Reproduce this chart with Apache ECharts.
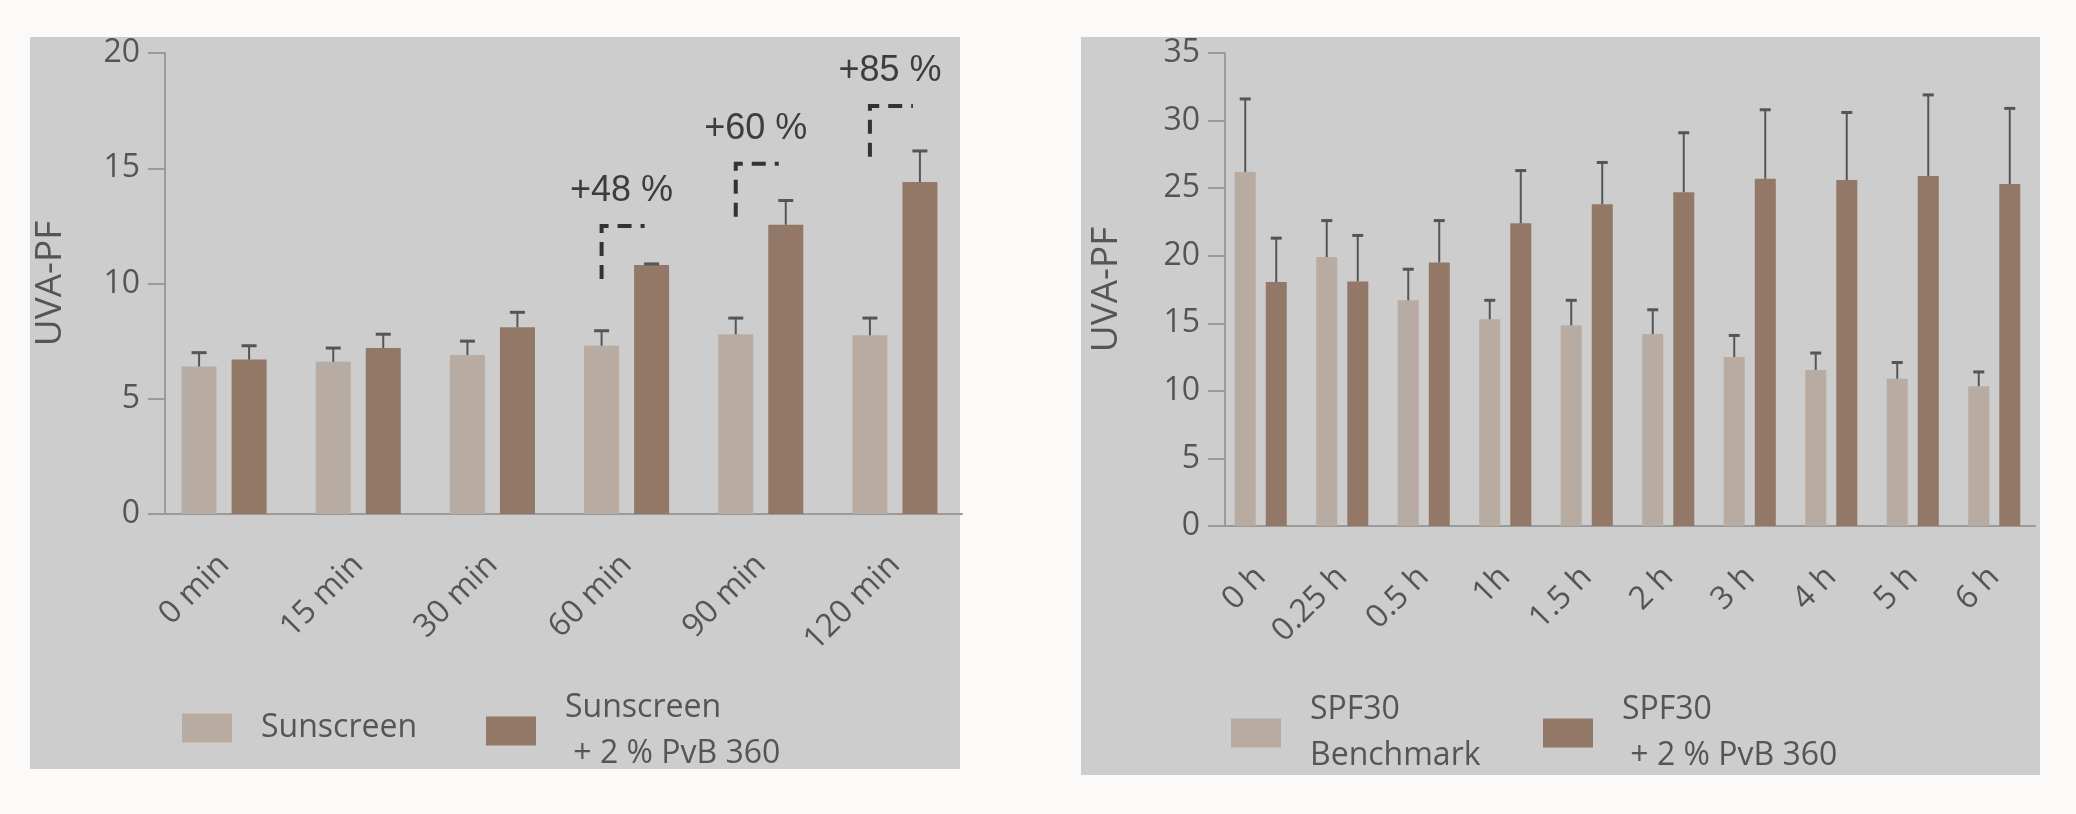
<!DOCTYPE html>
<html lang="en">

<head>
    <meta charset="UTF-8">
    <title>UVA-PF</title>
    <script src="https://cdn.jsdelivr.net/npm/echarts@6/dist/echarts.min.js"></script>
    <style>
        html, body { margin: 0; padding: 0; background: #fbfaf9; }
        .panel { position: absolute; background: #cdcdcd; }
        #main { position: absolute; left: 0; top: 0; width: 2076px; height: 814px; }
    </style>
</head>

<body>
    <div class="panel" style="left:30px; top:37px; width:930px; height:732px;"></div>
    <div class="panel" style="left:1081px; top:37px; width:959px; height:738px;"></div>
    <div id="main"></div>
    <script>
        // left chart: minutes
        var minCats = ['0 min', '15 min', '30 min', '60 min', '90 min', '120 min'];
        var sunscreen = [6.4, 6.6, 6.9, 7.3, 7.8, 7.75];
        var sunscreenErr = [0.6, 0.6, 0.6, 0.65, 0.7, 0.75];
        var sunscreenPvb = [6.7, 7.2, 8.1, 10.8, 12.55, 14.4];
        var sunscreenPvbErr = [0.6, 0.6, 0.65, 0.05, 1.05, 1.35];

        // dashed brackets with the gain
        var gainIdx = [3, 4, 5];
        var gainLabels = ['+48 %', '+60 %', '+85 %'];
        var gainLow = [10.2, 12.9, 15.5];
        var gainHigh = [12.5, 15.2, 17.7];

        // right chart: hours
        var hourCats = ['0 h', '0.25 h', '0.5 h', '1h', '1.5 h', '2 h', '3 h', '4 h', '5 h', '6 h'];
        var spf30 = [26.2, 19.9, 16.7, 15.3, 14.85, 14.2, 12.5, 11.55, 10.9, 10.35];
        var spf30Err = [5.4, 2.7, 2.3, 1.4, 1.85, 1.8, 1.6, 1.25, 1.2, 1.05];
        var spf30Pvb = [18.05, 18.1, 19.5, 22.4, 23.8, 24.7, 25.7, 25.6, 25.9, 25.3];
        var spf30PvbErr = [3.25, 3.4, 3.1, 3.9, 3.1, 4.4, 5.1, 5.0, 6.0, 5.6];

        var light = '#b8aba1';
        var dark = '#937868';
        var axisColor = '#9a9a9a';
        var textColor = '#555';
        var font = 'Open Sans';

        function errorBars(gridIdx, means, errs, dx, capW) {
            return {
                type: 'custom',
                xAxisIndex: gridIdx,
                yAxisIndex: gridIdx,
                z: 3,
                silent: true,
                data: means.map(function (m, i) { return [i, m, m + errs[i]]; }),
                renderItem: function (params, api) {
                    var base = api.coord([api.value(0), api.value(1)]);
                    var top = api.coord([api.value(0), api.value(2)]);
                    var x = base[0] + dx;
                    return {
                        type: 'group',
                        children: [
                            { type: 'line', shape: { x1: x, y1: base[1], x2: x, y2: top[1] }, style: { stroke: '#555', lineWidth: 2 } },
                            { type: 'line', shape: { x1: x - capW / 2, y1: top[1], x2: x + capW / 2, y2: top[1] }, style: { stroke: '#555', lineWidth: 3 } }
                        ]
                    };
                }
            };
        }

        function xAxis(gridIdx, cats) {
            return {
                type: 'category',
                gridIndex: gridIdx,
                data: cats,
                axisLine: { lineStyle: { color: axisColor, width: 2 } },
                axisTick: { alignWithLabel: true, length: 18, lineStyle: { color: axisColor, width: 2 } },
                axisLabel: { rotate: 45, margin: 46, fontFamily: font, fontSize: 32, color: textColor, interval: 0 }
            };
        }

        function yAxis(gridIdx, max, offset, gap) {
            return {
                type: 'value',
                gridIndex: gridIdx,
                min: 0,
                max: max,
                interval: 5,
                offset: offset,
                name: 'UVA-PF',
                nameLocation: 'middle',
                nameGap: gap,
                nameTextStyle: { fontFamily: font, fontSize: 37, color: textColor },
                axisLine: { show: true, lineStyle: { color: axisColor, width: 2 } },
                axisTick: { show: true, length: 17, lineStyle: { color: axisColor, width: 2 } },
                axisLabel: { margin: 25, fontFamily: font, fontSize: 32, color: textColor },
                splitLine: { show: false }
            };
        }

        var legendBase = {
            orient: 'vertical',
            padding: 0,
            itemWidth: 50,
            itemHeight: 29,
            icon: 'rect',
            selectedMode: false,
            textStyle: { fontFamily: font, fontSize: 32, color: textColor, lineHeight: 46, padding: [0, 0, 0, 24] }
        };
        function legend(name, left, top) {
            return Object.assign({}, legendBase, { data: [name], left: left, top: top });
        }

        var myChart = echarts.init(document.getElementById('main'));
        myChart.setOption({
            animation: false,
            grid: [
                { left: 157, top: 53, width: 805, height: 461 },
                { left: 1220, top: 53, width: 815, height: 473 }
            ],
            xAxis: [xAxis(0, minCats), xAxis(1, hourCats)],
            yAxis: [yAxis(0, 20, -8, 96), yAxis(1, 35, -5, 100)],
            legend: [
                legend('Sunscreen', 182, 705),
                legend('Sunscreen\n + 2 % PvB 360', 486, 685),
                legend('SPF30\nBenchmark', 1231, 687),
                legend('SPF30\n + 2 % PvB 360', 1543, 687)
            ],
            series: [
                { name: 'Sunscreen', type: 'bar', xAxisIndex: 0, yAxisIndex: 0, data: sunscreen, barWidth: 35, barGap: '43%', itemStyle: { color: light } },
                { name: 'Sunscreen\n + 2 % PvB 360', type: 'bar', xAxisIndex: 0, yAxisIndex: 0, data: sunscreenPvb, barWidth: 35, barGap: '43%', itemStyle: { color: dark } },
                { name: 'SPF30\nBenchmark', type: 'bar', xAxisIndex: 1, yAxisIndex: 1, data: spf30, barWidth: 21, barGap: '48%', itemStyle: { color: light } },
                { name: 'SPF30\n + 2 % PvB 360', type: 'bar', xAxisIndex: 1, yAxisIndex: 1, data: spf30Pvb, barWidth: 21, barGap: '48%', itemStyle: { color: dark } },
                errorBars(0, sunscreen, sunscreenErr, -25, 15),
                errorBars(0, sunscreenPvb, sunscreenPvbErr, 25, 15),
                errorBars(1, spf30, spf30Err, -15.5, 11),
                errorBars(1, spf30Pvb, spf30PvbErr, 15.5, 11),
                {
                    type: 'custom',
                    xAxisIndex: 0,
                    yAxisIndex: 0,
                    z: 4,
                    silent: true,
                    data: gainIdx.map(function (c, i) { return [c, gainLow[i], gainHigh[i]]; }),
                    renderItem: function (params, api) {
                        var lo = api.coord([api.value(0), api.value(1)]);
                        var hi = api.coord([api.value(0), api.value(2)]);
                        var x = lo[0] - 25;
                        return {
                            type: 'group',
                            children: [
                                {
                                    type: 'polyline',
                                    shape: { points: [[x, lo[1]], [x, hi[1]], [x + 43, hi[1]]] },
                                    style: { stroke: '#333', lineWidth: 4, lineDash: [14, 9], fill: 'none' }
                                },
                                {
                                    type: 'text',
                                    x: x + 20,
                                    y: hi[1] - 35,
                                    style: {
                                        text: gainLabels[params.dataIndex],
                                        fontFamily: 'Liberation Sans',
                                        fontSize: 36,
                                        fill: '#3d3d3d',
                                        align: 'center',
                                        verticalAlign: 'middle'
                                    }
                                }
                            ]
                        };
                    }
                }
            ]
        });
    </script>
</body>

</html>
